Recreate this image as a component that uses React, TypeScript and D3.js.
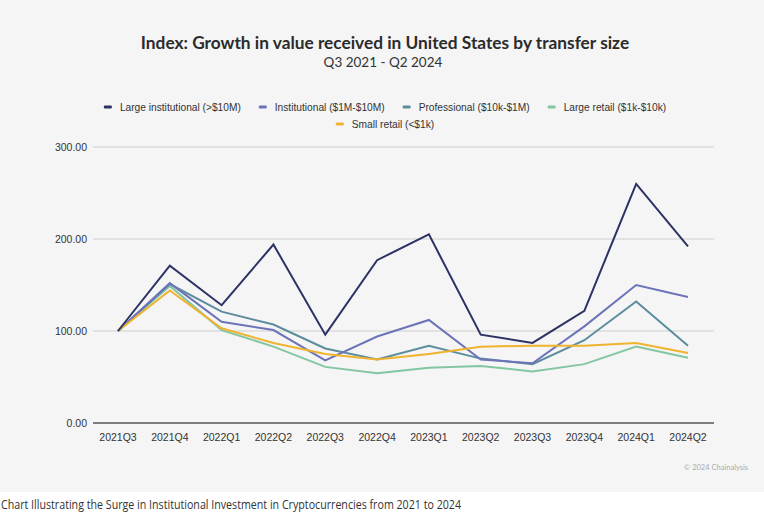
import { useEffect, useRef } from 'react';
import * as d3 from 'd3';

const quarters = ['2021Q3', '2021Q4', '2022Q1', '2022Q2', '2022Q3', '2022Q4', '2023Q1', '2023Q2', '2023Q3', '2023Q4', '2024Q1', '2024Q2'];

const largeInstitutional = [100, 171, 128, 194, 96, 177, 205, 96, 87, 122, 260, 192];
const institutional = [100, 152, 110, 101, 68, 94, 112, 69, 65, 105, 150, 137];
const professional = [100, 151, 121, 107, 81, 69, 84, 70, 64, 90, 132, 84];
const largeRetail = [100, 149, 101, 83, 61, 54, 60, 62, 56, 64, 83, 71];
const smallRetail = [100, 144, 103, 87, 75, 69, 75, 83, 84, 84, 87, 76];

const yTicks = [0, 100, 200, 300];

const seriesNames = ['Large institutional (>$10M)', 'Institutional ($1M-$10M)', 'Professional ($10k-$1M)', 'Large retail ($1k-$10k)', 'Small retail (<$1k)'];
const seriesColors = ['#2c3264', '#6d73b9', '#5b8d9e', '#82c6a2', '#f0b32e'];
const seriesValues = [largeInstitutional, institutional, professional, largeRetail, smallRetail];

const W = 764;
const H = 513;

const App = () => {
  const svgRef = useRef<SVGSVGElement>(null);

  useEffect(() => {
    document.body.style.margin = '0';
    if (!svgRef.current) return;
    const svg = d3.select(svgRef.current);
    svg.selectAll('*').remove();

    // panel background
    svg.append('rect').attr('x', 0).attr('y', 0).attr('width', W).attr('height', 492).attr('fill', '#f5f5f5');

    svg.append('text')
      .attr('x', 385).attr('y', 49)
      .attr('text-anchor', 'middle')
      .style('font-family', 'Lato, "Open Sans", sans-serif')
      .style('font-weight', 'bold')
      .style('font-size', '17.3px')
      .attr('fill', '#2b2b2b')
      .text('Index: Growth in value received in United States by transfer size');

    svg.append('text')
      .attr('x', 383).attr('y', 67)
      .attr('text-anchor', 'middle')
      .style('font-family', 'Lato, "Open Sans", sans-serif')
      .style('font-size', '13.5px')
      .attr('fill', '#333')
      .text('Q3 2021 - Q2 2024');

    // legend
    const legendRows = [[0, 1, 2, 3], [4]];
    const legendY = [107, 124];
    legendRows.forEach((row, ri) => {
      const g = svg.append('g');
      let x = 0;
      row.forEach(i => {
        g.append('rect').attr('x', x).attr('y', legendY[ri] - 1.5).attr('width', 8).attr('height', 3).attr('rx', 1)
          .attr('fill', seriesColors[i]);
        const t = g.append('text')
          .attr('x', x + 16).attr('y', legendY[ri] + 3.5)
          .style('font-family', '"Liberation Sans", Arial, sans-serif')
          .style('font-size', '10.2px')
          .attr('fill', '#333')
          .text(seriesNames[i]);
        const w = (t.node() as SVGTextElement).getComputedTextLength();
        x += 16 + w + 18;
      });
      const total = x - 18;
      g.attr('transform', `translate(${385 - total / 2},0)`);
    });

    const margin = { left: 93, right: 50, top: 147, bottom: 90 };
    const xScale = d3.scalePoint<string>()
      .domain(quarters)
      .range([118, 688]);
    const yScale = d3.scaleLinear()
      .domain([0, 300])
      .range([H - margin.bottom, margin.top]);

    const grid = svg.append('g');
    yTicks.forEach(t => {
      grid.append('line')
        .attr('x1', margin.left).attr('x2', W - margin.right)
        .attr('y1', yScale(t)).attr('y2', yScale(t))
        .attr('stroke', t === 0 ? '#555' : '#cfcfcf')
        .attr('stroke-width', t === 0 ? 1.3 : 1);
      grid.append('text')
        .attr('x', 87).attr('y', yScale(t) + 4)
        .attr('text-anchor', 'end')
        .style('font-family', '"Liberation Sans", Arial, sans-serif')
        .style('font-size', '10.5px')
        .attr('fill', '#333')
        .text(d3.format('.2f')(t));
    });

    quarters.forEach(q => {
      grid.append('text')
        .attr('x', xScale(q) ?? 0).attr('y', 441)
        .attr('text-anchor', 'middle')
        .style('font-family', '"Liberation Sans", Arial, sans-serif')
        .style('font-size', '10.5px')
        .attr('fill', '#333')
        .text(q);
    });

    const line = d3.line<number>()
      .x((_, i) => xScale(quarters[i]) ?? 0)
      .y(d => yScale(d));

    // draw back to front so large institutional sits on top
    [3, 2, 1, 4, 0].forEach(i => {
      svg.append('path')
        .datum(seriesValues[i])
        .attr('d', line)
        .attr('fill', 'none')
        .attr('stroke', seriesColors[i])
        .attr('stroke-width', 2)
        .attr('stroke-linejoin', 'miter');
    });

    svg.append('text')
      .attr('x', 748).attr('y', 470)
      .attr('text-anchor', 'end')
      .style('font-family', 'Lato, sans-serif')
      .style('font-size', '7.5px')
      .attr('fill', '#aaa')
      .text('© 2024 Chainalysis');

    svg.append('text')
      .attr('x', 1).attr('y', 509)
      .attr('textLength', 460)
      .attr('lengthAdjust', 'spacingAndGlyphs')
      .style('font-family', '"Open Sans", sans-serif')
      .style('font-size', '13.5px')
      .attr('fill', '#333')
      .text('Chart Illustrating the Surge in Institutional Investment in Cryptocurrencies from 2021 to 2024');
  }, []);

  return <svg ref={svgRef} width={W} height={H} style={{ display: 'block', background: '#fff' }}></svg>;
};

export default App;
